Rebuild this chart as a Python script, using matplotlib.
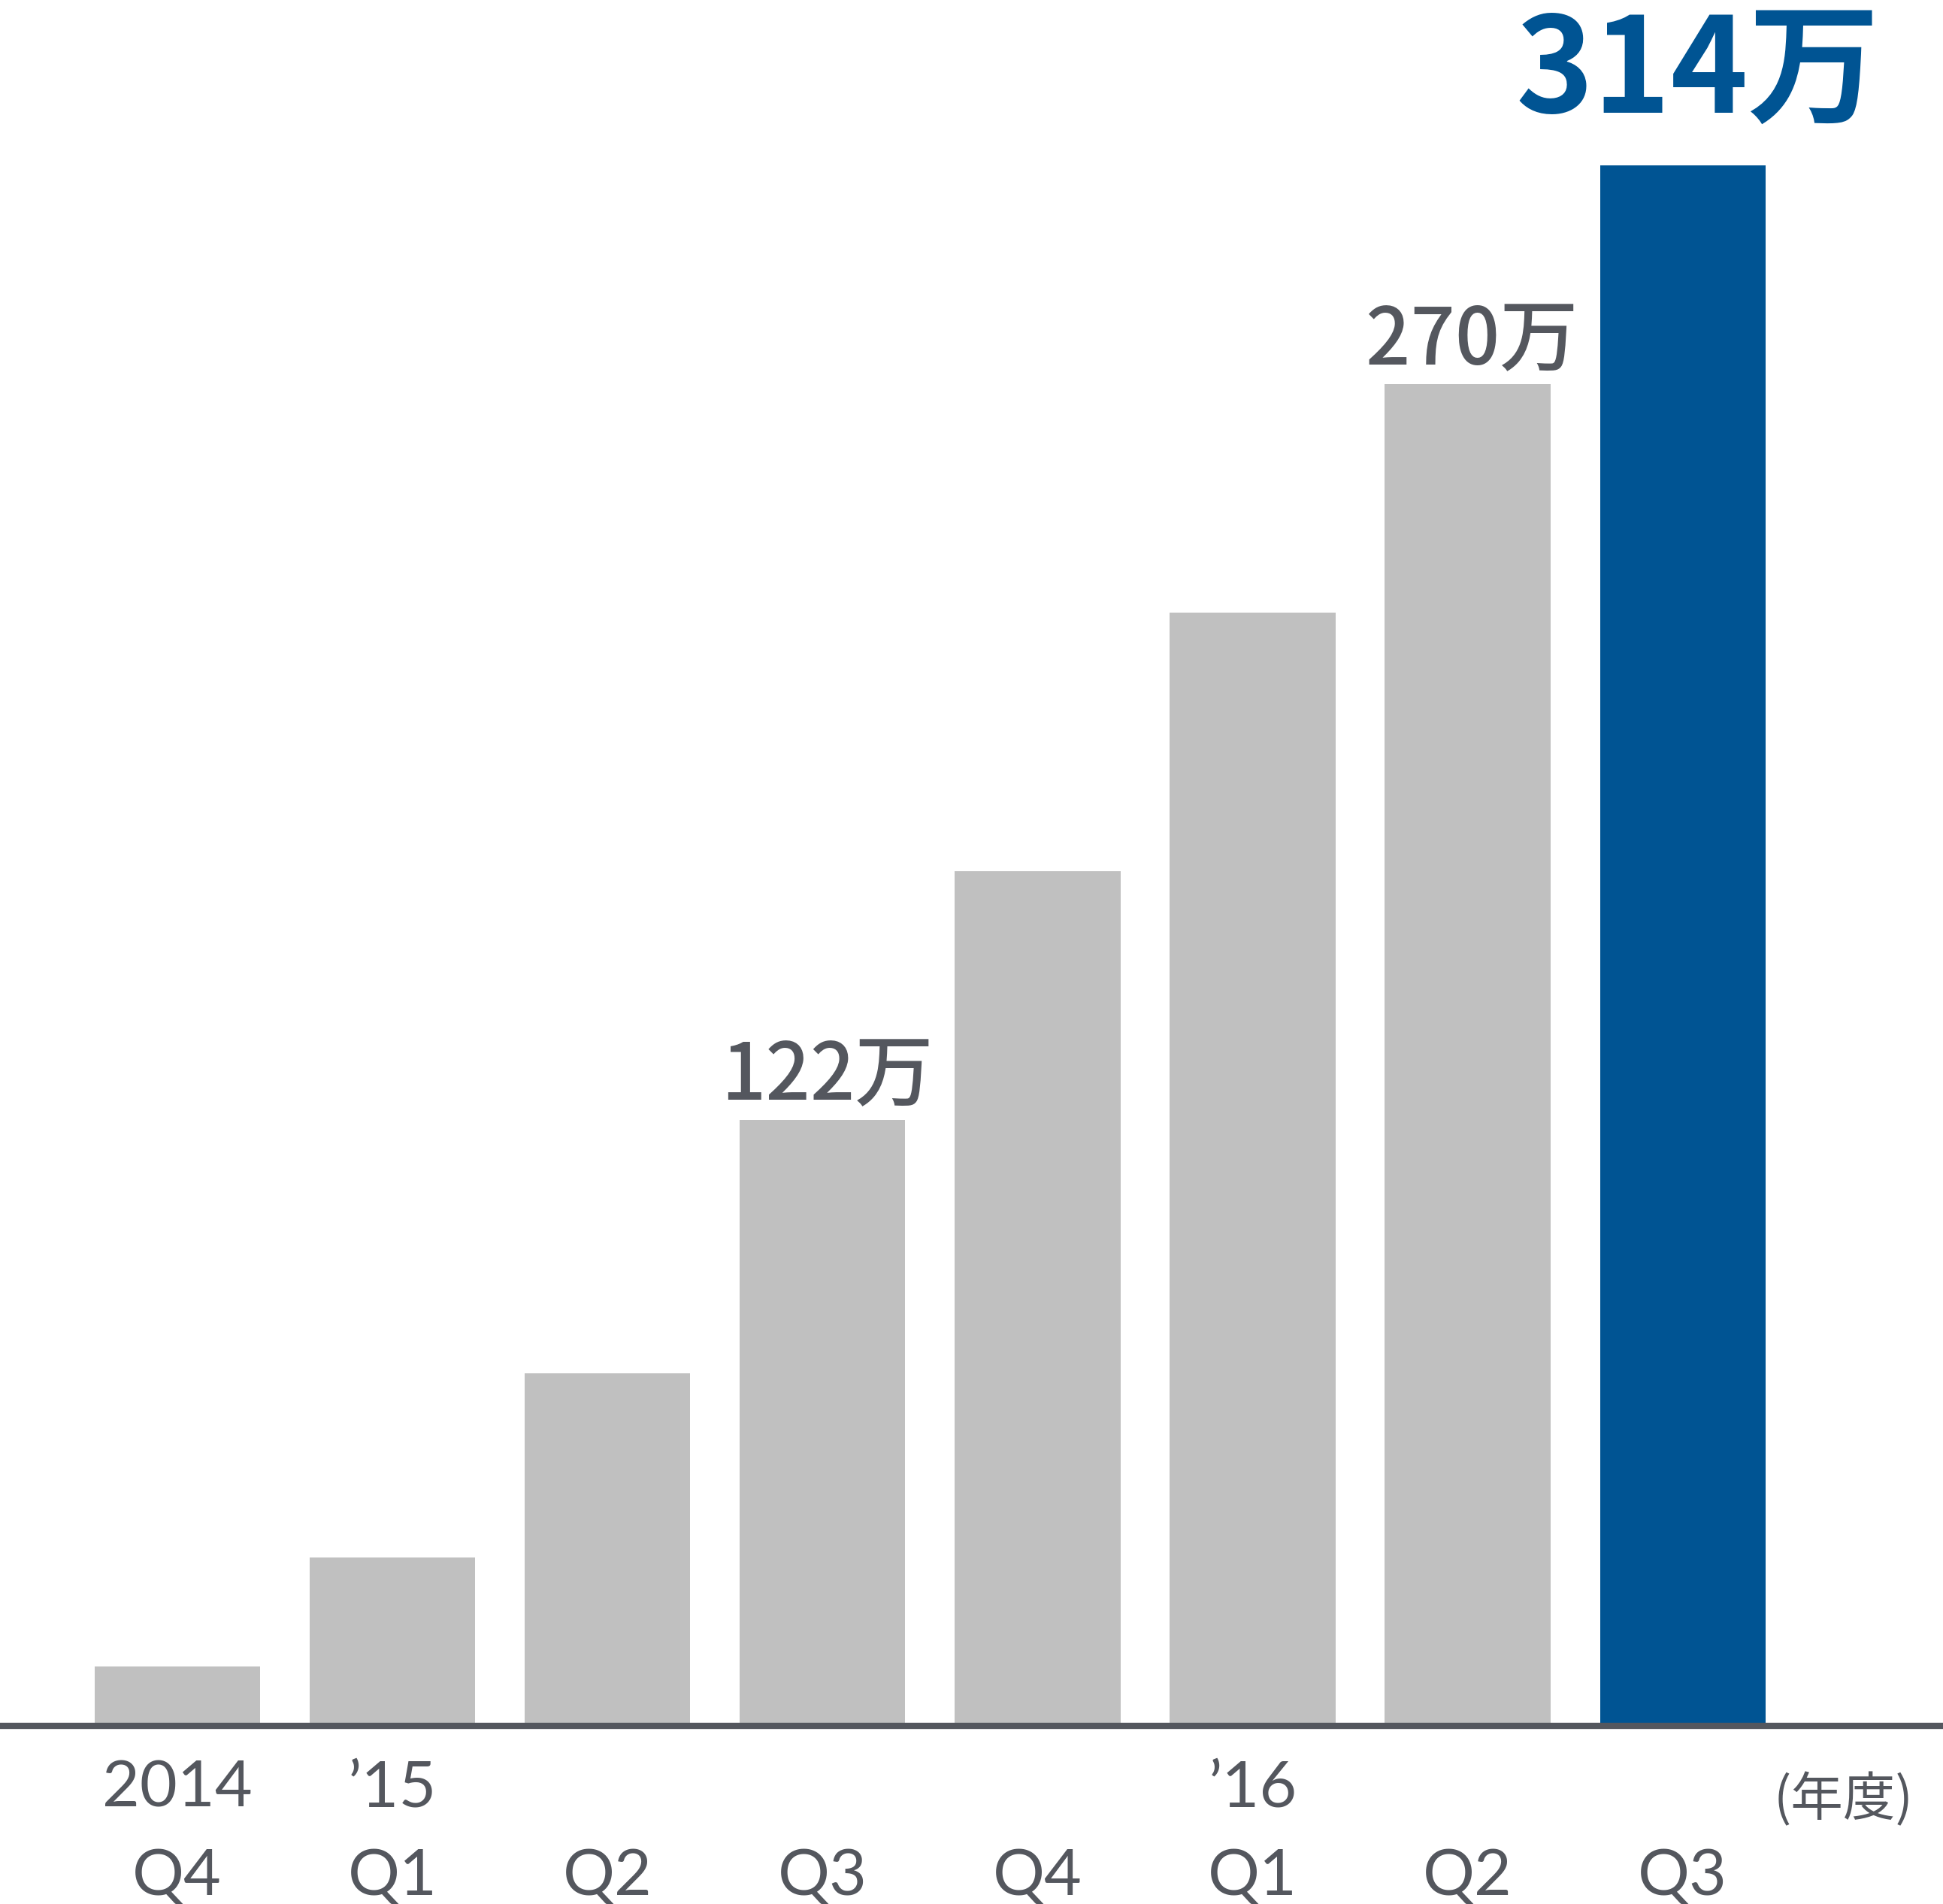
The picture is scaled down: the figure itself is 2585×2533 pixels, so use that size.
import matplotlib
matplotlib.use('Agg')
import matplotlib.pyplot as plt

# data (unit: 万)
quarters = ['Q4', 'Q1', 'Q2', 'Q3', 'Q4', 'Q1', 'Q2', 'Q3']
years = ['2014', '\u201915', '', '', '', '\u201916', '', '']
values = [12, 34, 71, 122, 172, 224, 270, 314]
labels = {3: '122万', 6: '270万', 7: '314万'}

grey = '#c0c0c0'
blue = '#005493'
text_col = '#54575e'
cjk = ['Noto Sans CJK JP', 'DejaVu Sans']
tick_font = ['Lato', 'Liberation Sans', 'DejaVu Sans']

fig = plt.figure(figsize=(25.85, 25.33), dpi=100)
ax = fig.add_axes([0, 0.0934, 1, 0.9066])

x = list(range(len(values)))
colors = [grey] * (len(values) - 1) + [blue]
ax.bar(x, values, width=0.77, color=colors, zorder=2)

ax.set_xlim(-0.824, 8.21)
ax.set_ylim(0, 347.3)

for s in ['top', 'right', 'left']:
    ax.spines[s].set_visible(False)
ax.spines['bottom'].set_color(text_col)
ax.spines['bottom'].set_linewidth(6)
ax.spines['bottom'].set_zorder(3)
ax.set_xticks([])
ax.set_yticks([])

# value labels
for i, lab in labels.items():
    if i == len(values) - 1:
        ax.text(x[i] + 0.07, values[i] + 10.6, lab, ha='center', va='baseline',
                fontsize=126, fontweight='semibold', color=blue, family=cjk)
    else:
        ax.text(x[i] + 0.02, values[i] + 4.0, lab, ha='center', va='baseline',
                fontsize=75, fontweight='medium', color=text_col, family=cjk)

# category labels
for i in x:
    if years[i]:
        ax.text(x[i], -16.2, years[i], ha='center', va='baseline', fontsize=62,
                color=text_col, family=tick_font, clip_on=False)
    ax.text(x[i], -34.0, quarters[i], ha='center', va='baseline', fontsize=62,
            color=text_col, family=tick_font, clip_on=False)

ax.text(7.746, -14.9, '(年度)', ha='center', va='center', fontsize=50,
        color=text_col, family=cjk, clip_on=False)

fig.savefig('out.png', dpi=100)
